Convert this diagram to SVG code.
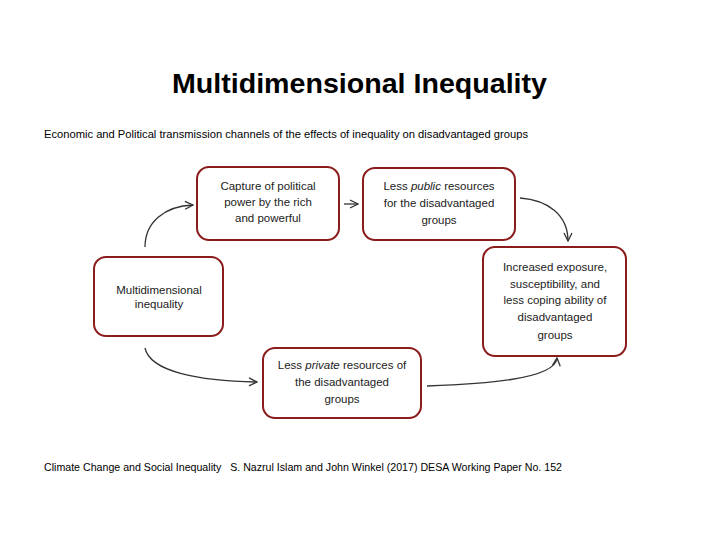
<svg xmlns="http://www.w3.org/2000/svg" width="720" height="540" viewBox="0 0 720 540">
<style>
.box{fill:#fff;stroke:#8b1c1c;stroke-width:2}
.t{font-family:"Liberation Sans",Arial,sans-serif;font-size:11.5px;fill:#222;text-anchor:middle}
.con{fill:none;stroke:#333;stroke-width:1.3}
.hdr{font-family:"Liberation Sans",Arial,sans-serif;fill:#000}
</style>
<defs>
<marker id="ah" viewBox="0 0 10 10" refX="9" refY="5" markerWidth="10" markerHeight="10" markerUnits="userSpaceOnUse" orient="auto">
<path d="M1,1 L9,5 L1,9" fill="none" stroke="#333" stroke-width="1.3"/>
</marker>
</defs>
<rect width="720" height="540" fill="#fff"/>
<text class="hdr" x="172" y="93" font-size="27" font-weight="bold" textLength="375" lengthAdjust="spacingAndGlyphs">Multidimensional Inequality</text>
<text class="hdr" x="44" y="138" font-size="11" textLength="484" lengthAdjust="spacingAndGlyphs">Economic and Political transmission channels of the effects of inequality on disadvantaged groups</text>
<text class="hdr" x="44" y="471" font-size="11" textLength="518" lengthAdjust="spacingAndGlyphs" style="white-space:pre">Climate Change and Social Inequality   S. Nazrul Islam and John Winkel (2017) DESA Working Paper No. 152</text>

<g id="connectors">
<path class="con" d="M145,247 C145,222 165,206 193,205" marker-end="url(#ah)"/>
<path class="con" d="M344,204 L358,204" marker-end="url(#ah)"/>
<path class="con" d="M520,198 C548,200 568,215 568,241" marker-end="url(#ah)"/>
<path class="con" d="M145,348 C150,372 200,381 257,382" marker-end="url(#ah)"/>
<path class="con" d="M427,386 C480,384 555,380 557,358" marker-end="url(#ah)"/>
</g>

<g id="node-capture">
<rect class="box" x="197" y="167" width="142" height="73" rx="12"/>
<text class="t" x="268" y="190">Capture of political</text>
<text class="t" x="268" y="206">power by the rich</text>
<text class="t" x="268" y="222">and powerful</text>
</g>
<g id="node-public">
<rect class="box" x="363" y="168" width="152" height="72" rx="12"/>
<text class="t" x="439" y="190">Less <tspan font-style="italic">public</tspan> resources</text>
<text class="t" x="439" y="207">for the disadvantaged</text>
<text class="t" x="439" y="224">groups</text>
</g>
<g id="node-multi">
<rect class="box" x="94" y="257" width="129" height="79" rx="12"/>
<text class="t" x="159" y="294">Multidimensional</text>
<text class="t" x="159" y="308">inequality</text>
</g>
<g id="node-increased">
<rect class="box" x="483" y="247" width="143" height="109" rx="12"/>
<text class="t" x="555" y="271">Increased exposure,</text>
<text class="t" x="555" y="288">susceptibility, and</text>
<text class="t" x="555" y="304">less coping ability of</text>
<text class="t" x="555" y="321">disadvantaged</text>
<text class="t" x="555" y="339">groups</text>
</g>
<g id="node-private">
<rect class="box" x="263" y="348" width="158" height="70" rx="12"/>
<text class="t" x="342" y="369">Less <tspan font-style="italic">private</tspan> resources of</text>
<text class="t" x="342" y="386">the disadvantaged</text>
<text class="t" x="342" y="403">groups</text>
</g>
</svg>
